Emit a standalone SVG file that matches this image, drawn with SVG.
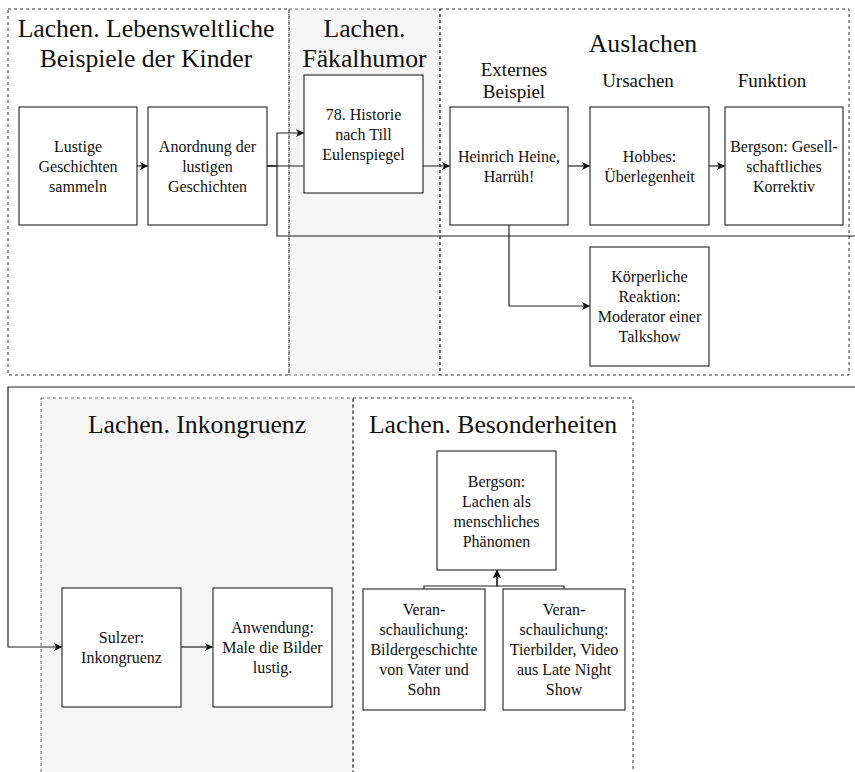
<svg xmlns="http://www.w3.org/2000/svg" width="855" height="772" viewBox="0 0 855 772">
  <style>
    text { font-family: "Liberation Serif", "Times New Roman", serif; fill: #111; text-anchor: middle; }
    .title { font-size: 25.7px; }
    .sub { font-size: 19px; }
    .lbl { font-size: 16px; }
    .box { fill: #fff; stroke: #333; stroke-width: 1.2; }
    .lane { fill: none; stroke: #333; stroke-width: 1; stroke-dasharray: 3 3; }
    .lane-shade { fill: #f5f5f5; stroke: #666; stroke-width: 1; stroke-dasharray: 3 3; }
    .edge { fill: none; stroke: #222; stroke-width: 1.2; }
  </style>
  <defs>
    <marker id="arrow" viewBox="0 0 10 10" refX="10" refY="5" markerWidth="8" markerHeight="8" markerUnits="userSpaceOnUse" orient="auto">
      <path d="M0,0 L10,5 L0,10 L2.5,5 Z" fill="#111"/>
    </marker>
  </defs>

  <rect width="855" height="772" fill="#fff"/>

  <!-- swimlanes -->
  <g id="lanes">
    <rect id="lane-faekal" class="lane-shade" x="289" y="9" width="151" height="366"/>
    <rect id="lane-inkongruenz" class="lane-shade" x="41" y="398" width="312" height="400"/>
    <rect id="lane-lebenswelt" class="lane" x="8" y="9" width="281" height="366"/>
    <rect id="lane-auslachen" class="lane" x="440" y="9" width="409" height="366"/>
    <rect id="lane-besonderheiten" class="lane" x="353" y="398" width="280" height="400"/>
    <text class="title" x="146" y="37">Lachen. Lebensweltliche</text>
    <text class="title" x="146" y="67">Beispiele der Kinder</text>
    <text class="title" x="364.5" y="37">Lachen.</text>
    <text class="title" x="364.5" y="67">Fäkalhumor</text>
    <text class="title" x="643" y="52">Auslachen</text>
    <text class="sub" x="514" y="76">Externes</text>
    <text class="sub" x="514" y="98">Beispiel</text>
    <text class="sub" x="638" y="87">Ursachen</text>
    <text class="sub" x="772" y="87">Funktion</text>
    <text class="title" x="197" y="433">Lachen. Inkongruenz</text>
    <text class="title" x="493" y="433">Lachen. Besonderheiten</text>
  </g>

  <!-- connectors -->
  <g id="connectors">
    <path class="edge" d="M137,166 H148" marker-end="url(#arrow)"/>
    <path class="edge" d="M267,166 H277 V133 H304" marker-end="url(#arrow)"/>
    <path class="edge" d="M267,166 H450" marker-end="url(#arrow)"/>
    <path class="edge" d="M267,166 H277 V236 H862 V387 H8 V647 H62" marker-end="url(#arrow)"/>
    <path class="edge" d="M568,166 H590" marker-end="url(#arrow)"/>
    <path class="edge" d="M709,166 H725" marker-end="url(#arrow)"/>
    <path class="edge" d="M509,225 V306 H590" marker-end="url(#arrow)"/>
    <path class="edge" d="M181,647 H213" marker-end="url(#arrow)"/>
    <path class="edge" d="M424,589 V586 H497 V570" marker-end="url(#arrow)"/>
    <path class="edge" d="M564,589 V586 H497 V570" marker-end="url(#arrow)"/>
  </g>

  <!-- nodes -->
  <g id="n-sammeln">
    <rect class="box" x="19" y="107" width="118" height="118"/>
    <text class="lbl" x="78" y="152">Lustige</text>
    <text class="lbl" x="78" y="172">Geschichten</text>
    <text class="lbl" x="78" y="192">sammeln</text>
  </g>
  <g id="n-anordnung">
    <rect class="box" x="148" y="107" width="119" height="118"/>
    <text class="lbl" x="207.5" y="152">Anordnung der</text>
    <text class="lbl" x="207.5" y="172">lustigen</text>
    <text class="lbl" x="207.5" y="192">Geschichten</text>
  </g>
  <g id="n-historie">
    <rect class="box" x="304" y="75" width="119" height="118"/>
    <text class="lbl" x="363.5" y="120">78. Historie</text>
    <text class="lbl" x="363.5" y="140">nach Till</text>
    <text class="lbl" x="363.5" y="160">Eulenspiegel</text>
  </g>
  <g id="n-heine">
    <rect class="box" x="450" y="107" width="118" height="118"/>
    <text class="lbl" x="509" y="162">Heinrich Heine,</text>
    <text class="lbl" x="509" y="182">Harrüh!</text>
  </g>
  <g id="n-hobbes">
    <rect class="box" x="590" y="107" width="119" height="118"/>
    <text class="lbl" x="649.5" y="162">Hobbes:</text>
    <text class="lbl" x="649.5" y="182">Überlegenheit</text>
  </g>
  <g id="n-korrektiv">
    <rect class="box" x="725" y="107" width="118" height="118"/>
    <text class="lbl" x="784" y="152">Bergson: Gesell-</text>
    <text class="lbl" x="784" y="172">schaftliches</text>
    <text class="lbl" x="784" y="192">Korrektiv</text>
  </g>
  <g id="n-reaktion">
    <rect class="box" x="590" y="247" width="119" height="119"/>
    <text class="lbl" x="649.5" y="282">Körperliche</text>
    <text class="lbl" x="649.5" y="302">Reaktion:</text>
    <text class="lbl" x="649.5" y="322">Moderator einer</text>
    <text class="lbl" x="649.5" y="342">Talkshow</text>
  </g>
  <g id="n-sulzer">
    <rect class="box" x="62" y="588" width="119" height="119"/>
    <text class="lbl" x="121.5" y="643">Sulzer:</text>
    <text class="lbl" x="121.5" y="663">Inkongruenz</text>
  </g>
  <g id="n-anwendung">
    <rect class="box" x="213" y="588" width="119" height="119"/>
    <text class="lbl" x="272.5" y="633">Anwendung:</text>
    <text class="lbl" x="272.5" y="653">Male die Bilder</text>
    <text class="lbl" x="272.5" y="673">lustig.</text>
  </g>
  <g id="n-phaenomen">
    <rect class="box" x="437" y="451" width="119" height="119"/>
    <text class="lbl" x="496.5" y="487">Bergson:</text>
    <text class="lbl" x="496.5" y="507">Lachen als</text>
    <text class="lbl" x="496.5" y="527">menschliches</text>
    <text class="lbl" x="496.5" y="547">Phänomen</text>
  </g>
  <g id="n-vater-sohn">
    <rect class="box" x="363" y="589" width="122" height="121"/>
    <text class="lbl" x="424" y="615">Veran-</text>
    <text class="lbl" x="424" y="635">schaulichung:</text>
    <text class="lbl" x="424" y="655">Bildergeschichte</text>
    <text class="lbl" x="424" y="675">von Vater und</text>
    <text class="lbl" x="424" y="695">Sohn</text>
  </g>
  <g id="n-late-night">
    <rect class="box" x="503" y="589" width="122" height="121"/>
    <text class="lbl" x="564" y="615">Veran-</text>
    <text class="lbl" x="564" y="635">schaulichung:</text>
    <text class="lbl" x="564" y="655">Tierbilder, Video</text>
    <text class="lbl" x="564" y="675">aus Late Night</text>
    <text class="lbl" x="564" y="695">Show</text>
  </g>
</svg>
